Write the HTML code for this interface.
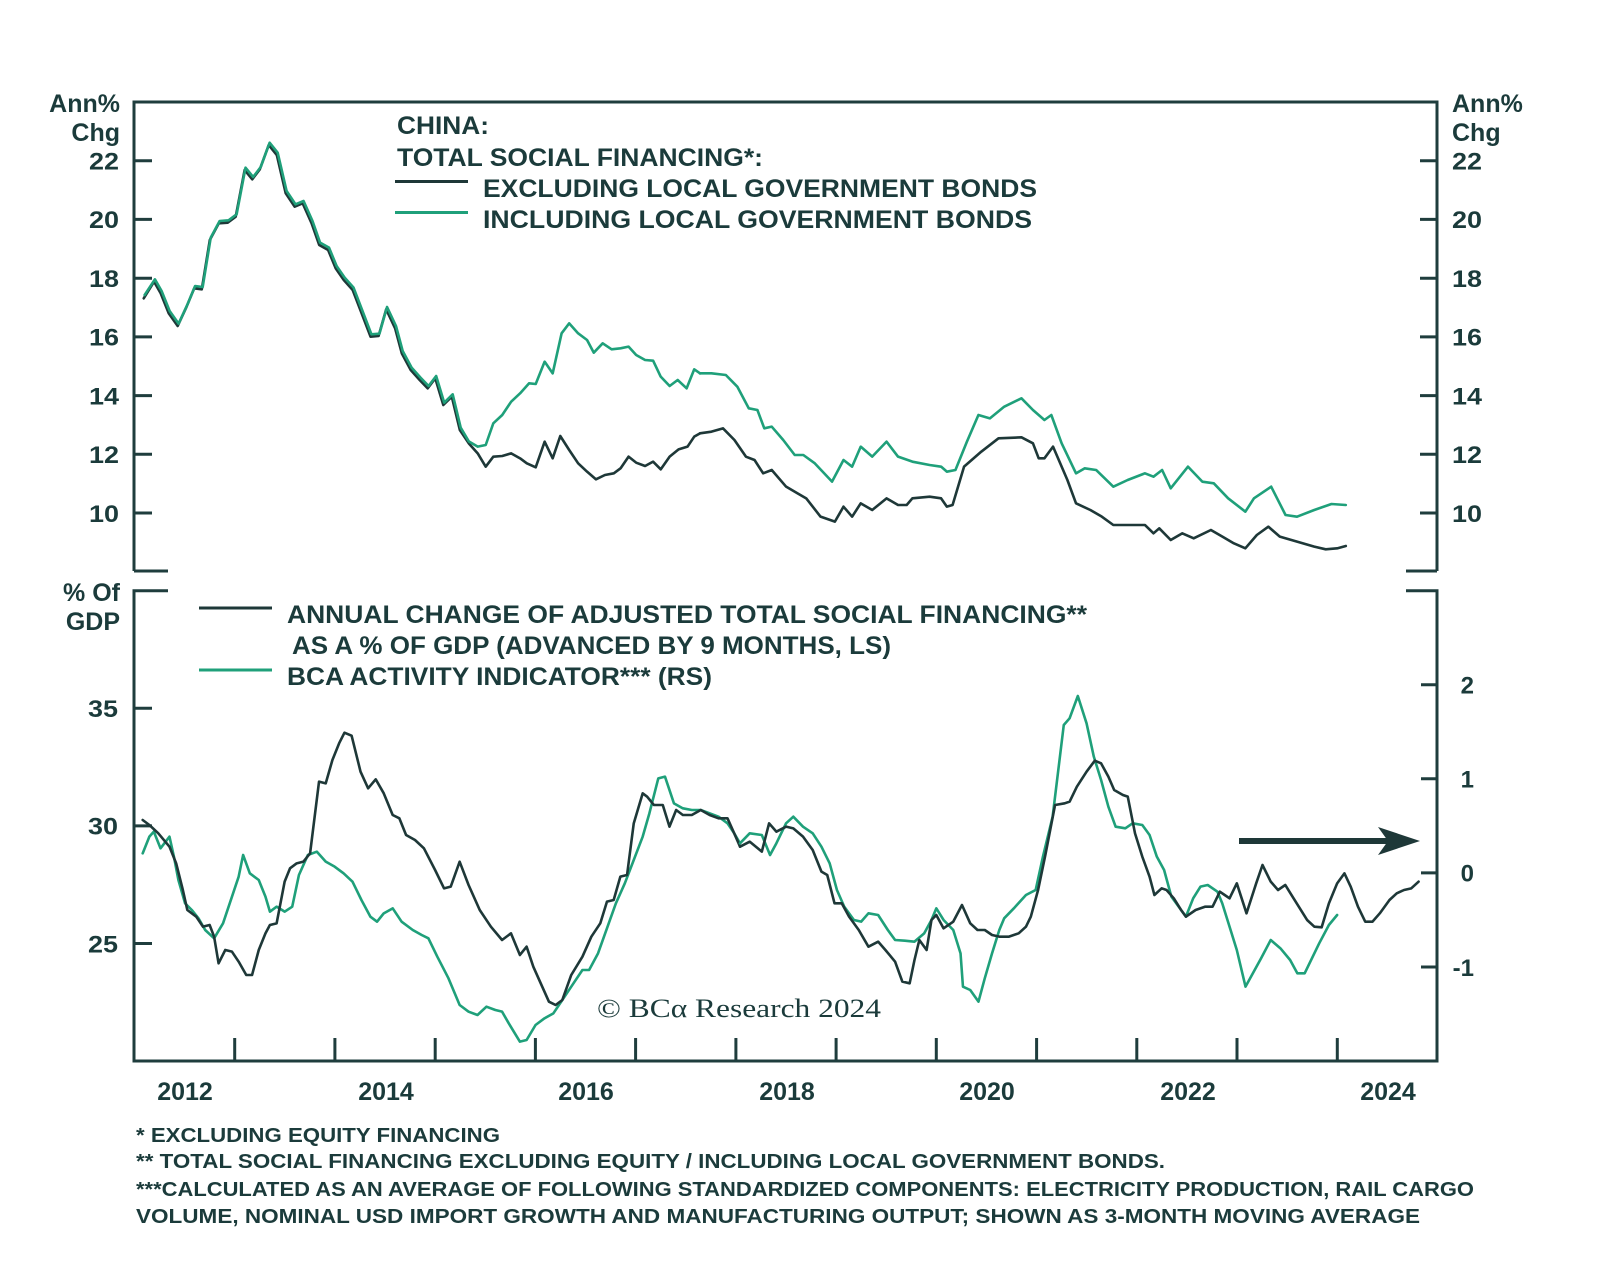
<!DOCTYPE html>
<html><head><meta charset="utf-8"><style>
html,body{margin:0;padding:0;background:#fff;}
svg{display:block;}
.t{font-family:"Liberation Sans",sans-serif;font-weight:bold;fill:#1b3b3b;}
</style></head><body>
<svg width="1600" height="1284" viewBox="0 0 1600 1284" xmlns="http://www.w3.org/2000/svg">
<rect width="1600" height="1284" fill="#fff"/>
<!-- axes -->
<g stroke="#1f3d3d" stroke-width="3" fill="none">
<path d="M134,571 L134,102 L1437,102 L1437,571"/>
<path d="M134,571 L168,571 M1406,571 L1437,571"/>
<path d="M134,160.7 H152 M134,219.4 H152 M134,278.2 H152 M134,336.9 H152 M134,395.6 H152 M134,454.3 H152 M134,513 H152"/>
<path d="M1420,160.7 H1437 M1420,219.4 H1437 M1420,278.2 H1437 M1420,336.9 H1437 M1420,395.6 H1437 M1420,454.3 H1437 M1420,513 H1437"/>
<path d="M168,590.7 L134,590.7 L134,1061 L1437,1061 L1437,590.7 L1406,590.7"/>
<path d="M134,708.3 H152 M134,825.9 H152 M134,943.5 H152"/>
<path d="M1421,684.8 H1437 M1421,778.8 H1437 M1421,872.9 H1437 M1421,967 H1437"/>
<path d="M234.7,1061 V1038 M334.9,1061 V1038 M435.2,1061 V1038 M535.4,1061 V1038 M635.6,1061 V1038 M735.9,1061 V1038 M836.1,1061 V1038 M936.3,1061 V1038 M1036.6,1061 V1038 M1136.8,1061 V1038 M1237,1061 V1038 M1337.3,1061 V1038"/>
</g>

<g fill="none" stroke-linejoin="round" stroke-linecap="round">
<g transform="translate(0,80) scale(0.44643,0.33333)">
<polyline vector-effect="non-scaling-stroke" stroke="#1e3838" stroke-width="2.6" points="322,655 345,605 360,640 378,700 398,738 418,680 435,625 452,628 470,480 490,430 510,428 528,410 548,270 565,298 582,268 602,195 620,225 640,340 660,380 678,370 698,430 715,495 735,510 752,565 770,600 790,630 810,700 830,770 848,768 865,688 885,745 900,820 920,870 940,900 958,925 975,895 993,975 1012,950 1030,1050 1050,1090 1070,1120 1088,1160 1105,1130 1125,1128 1145,1120 1165,1135 1180,1150 1200,1162 1220,1085 1238,1135 1255,1068 1275,1110 1295,1150 1315,1175 1335,1198 1355,1185 1375,1180 1390,1165 1408,1130 1425,1148 1445,1158 1463,1145 1480,1168 1500,1130 1520,1108 1540,1100 1555,1070 1568,1060"/>
<polyline vector-effect="non-scaling-stroke" stroke="#1fa07a" stroke-width="2.6" points="324,645 347,598 362,633 380,693 400,731 420,673 437,618 454,621 472,473 492,423 512,421 530,403 550,263 567,291 584,261 604,188 622,218 642,333 662,373 680,363 700,423 717,488 737,503 754,558 772,593 792,623 812,693 832,763 850,761 867,681 887,738 902,813 922,863 942,893 960,918 977,888 995,968 1014,943 1032,1043 1050,1084 1070,1100 1088,1095 1105,1030 1125,1005 1145,965 1165,940 1185,910 1200,912 1220,845 1238,880 1258,760 1275,730 1295,760 1315,780 1330,818 1350,790 1370,808 1390,805 1408,800 1425,825 1445,840 1463,842 1480,890 1500,918 1518,900 1538,925 1555,868 1568,880"/>
</g>
<g transform="translate(700,80) scale(0.57405,0.33333)">
<polyline vector-effect="non-scaling-stroke" stroke="#1e3838" stroke-width="2.6" points="0,1060 20,1055 40,1045 60,1080 80,1130 95,1140 110,1180 125,1170 150,1220 170,1240 185,1255 210,1310 235,1325 250,1280 265,1310 280,1270 300,1290 325,1255 345,1275 360,1275 370,1255 400,1250 420,1255 430,1280 440,1275 460,1160 490,1115 520,1075 560,1072 580,1090 590,1135 600,1135 615,1100 640,1200 655,1270 680,1290 700,1310 720,1335 745,1335 775,1335 790,1360 800,1345 820,1380 840,1360 860,1375 890,1350 910,1370 930,1390 950,1405 970,1365 990,1340 1010,1370 1040,1385 1070,1400 1090,1408 1110,1405 1125,1398"/>
<polyline vector-effect="non-scaling-stroke" stroke="#1fa07a" stroke-width="2.6" points="0,880 20,880 45,885 65,920 85,985 100,990 112,1045 125,1040 145,1080 165,1125 180,1125 200,1150 230,1205 250,1140 265,1160 280,1100 300,1130 325,1085 345,1130 370,1145 400,1155 420,1160 430,1175 445,1170 465,1085 485,1005 505,1015 530,980 560,955 580,990 600,1020 612,1005 630,1090 655,1180 670,1165 690,1170 720,1220 745,1200 775,1180 790,1190 805,1170 820,1225 850,1160 875,1205 895,1210 920,1255 950,1295 965,1255 995,1220 1020,1305 1040,1310 1070,1290 1100,1272 1125,1275"/>
</g>

<g transform="translate(40,570) scale(0.44643,0.33333)">
<polyline vector-effect="non-scaling-stroke" stroke="#1fa07a" stroke-width="2.6" points="230,850 245,800 255,785 270,835 290,800 300,860 310,930 325,1000 340,1020 355,1045 370,1080 390,1105 410,1060 430,980 445,920 455,855 470,910 490,930 505,980 515,1025 530,1010 548,1025 565,1010 580,915 600,855 620,845 640,875 660,890 680,910 700,935 720,990 740,1040 755,1055 770,1030 790,1015 810,1055 835,1080 855,1095 870,1105 890,1160 915,1225 940,1305 960,1325 980,1335 1000,1310 1020,1320 1035,1325 1050,1360 1075,1415 1090,1410 1110,1365 1130,1345 1150,1330 1170,1290 1195,1240 1215,1200 1230,1200 1250,1150 1270,1075 1290,1000 1310,940 1330,870 1350,800 1365,730 1385,625 1400,620 1420,700 1440,715 1460,720 1480,720 1500,730 1520,740 1540,760 1555,790 1568,820"/>
<polyline vector-effect="non-scaling-stroke" stroke="#1e3838" stroke-width="2.6" points="230,750 245,765 265,790 290,830 305,880 320,960 330,1020 350,1040 365,1070 380,1065 390,1100 400,1180 415,1140 430,1145 445,1175 462,1215 475,1215 490,1140 505,1090 515,1065 530,1060 548,935 560,895 575,880 590,875 605,850 625,635 640,640 655,570 670,520 682,488 698,497 718,605 735,655 752,628 770,670 790,735 805,745 820,795 840,810 860,835 885,900 905,955 920,950 940,875 960,945 985,1020 1010,1070 1035,1110 1055,1090 1075,1155 1090,1130 1105,1190 1125,1250 1140,1295 1155,1305 1170,1290 1190,1215 1215,1160 1235,1100 1255,1060 1270,995 1285,990 1300,920 1315,915 1330,760 1350,670 1360,680 1375,705 1395,705 1410,770 1425,720 1440,735 1460,735 1480,720 1500,735 1520,745 1540,745 1555,790 1568,830"/>
</g>
<g transform="translate(740,570) scale(0.48469,0.33333)">
<polyline vector-effect="non-scaling-stroke" stroke="#1fa07a" stroke-width="2.6" points="0,820 20,790 45,795 62,855 75,820 95,760 110,740 130,770 150,790 168,830 185,880 200,960 215,1010 235,1050 250,1055 265,1030 285,1035 305,1080 320,1110 340,1112 360,1115 380,1090 395,1050 405,1015 420,1050 440,1080 455,1150 460,1250 475,1260 492,1295 505,1225 520,1150 535,1080 545,1045 565,1015 590,975 610,960 625,860 645,740 668,465 680,445 697,378 715,460 730,560 745,630 760,710 775,770 795,775 810,760 830,765 845,795 860,860 875,900 890,980 905,1010 920,1040 935,985 950,950 965,945 985,965 995,1000 1010,1070 1025,1140 1043,1250 1060,1205 1075,1165 1095,1110 1115,1135 1135,1170 1150,1210 1165,1210 1180,1165 1195,1120 1215,1065 1232,1035"/>
<polyline vector-effect="non-scaling-stroke" stroke="#1e3838" stroke-width="2.6" points="0,830 20,815 45,845 60,760 75,785 95,770 110,775 130,800 150,840 168,905 180,915 195,1000 210,1000 225,1040 245,1080 265,1130 285,1115 300,1140 320,1175 335,1235 350,1240 360,1170 370,1110 385,1140 395,1050 405,1035 420,1075 440,1055 458,1005 475,1060 490,1080 505,1080 520,1095 535,1100 555,1100 575,1090 590,1070 600,1040 615,960 630,855 650,705 670,700 680,695 695,650 715,605 732,572 745,580 760,620 772,660 790,675 800,680 815,790 830,860 845,920 855,975 870,955 880,960 895,985 910,1020 920,1040 940,1020 960,1010 975,1010 990,965 1000,975 1010,985 1025,940 1035,985 1045,1030 1065,940 1078,885 1095,935 1110,960 1125,945 1140,980 1155,1015 1170,1050 1185,1070 1200,1072 1215,1000 1232,940 1247,910 1260,950 1275,1010 1290,1055 1305,1055 1320,1030 1340,990 1355,970 1370,960 1385,955 1400,935"/>
</g>
</g>

<line x1="1239" y1="841" x2="1392" y2="841" stroke="#1e3838" stroke-width="6"/>
<polygon points="1378,827 1420,841 1378,855 1388,841" fill="#1e3838"/>

<line x1="395" y1="181.5" x2="468" y2="181.5" stroke="#1e3838" stroke-width="3"/>
<line x1="395" y1="212.5" x2="468" y2="212.5" stroke="#1fa07a" stroke-width="3"/>
<g class="t" font-size="25">
<text x="397" y="134" textLength="92" lengthAdjust="spacingAndGlyphs">CHINA:</text>
<text x="397" y="166" textLength="366" lengthAdjust="spacingAndGlyphs">TOTAL SOCIAL FINANCING*:</text>
<text x="483" y="197" textLength="554" lengthAdjust="spacingAndGlyphs">EXCLUDING LOCAL GOVERNMENT BONDS</text>
<text x="483" y="228" textLength="549" lengthAdjust="spacingAndGlyphs">INCLUDING LOCAL GOVERNMENT BONDS</text>
</g>

<line x1="199" y1="608" x2="272" y2="608" stroke="#1e3838" stroke-width="3"/>
<line x1="199" y1="670" x2="272" y2="670" stroke="#1fa07a" stroke-width="3"/>
<g class="t" font-size="25">
<text x="287" y="623" textLength="800" lengthAdjust="spacingAndGlyphs">ANNUAL CHANGE OF ADJUSTED TOTAL SOCIAL FINANCING**</text>
<text x="292" y="654" textLength="599" lengthAdjust="spacingAndGlyphs">AS A % OF GDP (ADVANCED BY 9 MONTHS, LS)</text>
<text x="287" y="685" textLength="425" lengthAdjust="spacingAndGlyphs">BCA ACTIVITY INDICATOR*** (RS)</text>
</g>

<g class="t" font-size="25">
<text x="120" y="112" text-anchor="end">Ann%</text>
<text x="120" y="141" text-anchor="end">Chg</text>
<text x="1452" y="112">Ann%</text>
<text x="1452" y="141">Chg</text>
<text x="120" y="112" text-anchor="end" opacity="0"> </text>
</g>
<g class="t" font-size="24">
<text x="89" y="169.5" textLength="30" lengthAdjust="spacingAndGlyphs">22</text>
<text x="89" y="228.2" textLength="30" lengthAdjust="spacingAndGlyphs">20</text>
<text x="89" y="287" textLength="30" lengthAdjust="spacingAndGlyphs">18</text>
<text x="89" y="345.7" textLength="30" lengthAdjust="spacingAndGlyphs">16</text>
<text x="89" y="404.4" textLength="30" lengthAdjust="spacingAndGlyphs">14</text>
<text x="89" y="463.1" textLength="30" lengthAdjust="spacingAndGlyphs">12</text>
<text x="89" y="521.8" textLength="30" lengthAdjust="spacingAndGlyphs">10</text>
<text x="1452" y="169.5" textLength="30" lengthAdjust="spacingAndGlyphs">22</text>
<text x="1452" y="228.2" textLength="30" lengthAdjust="spacingAndGlyphs">20</text>
<text x="1452" y="287" textLength="30" lengthAdjust="spacingAndGlyphs">18</text>
<text x="1452" y="345.7" textLength="30" lengthAdjust="spacingAndGlyphs">16</text>
<text x="1452" y="404.4" textLength="30" lengthAdjust="spacingAndGlyphs">14</text>
<text x="1452" y="463.1" textLength="30" lengthAdjust="spacingAndGlyphs">12</text>
<text x="1452" y="521.8" textLength="30" lengthAdjust="spacingAndGlyphs">10</text>
<text x="88" y="717.1" textLength="30" lengthAdjust="spacingAndGlyphs">35</text>
<text x="88" y="834.7" textLength="30" lengthAdjust="spacingAndGlyphs">30</text>
<text x="88" y="952.3" textLength="30" lengthAdjust="spacingAndGlyphs">25</text>
<text x="1474" y="693.6" text-anchor="end">2</text>
<text x="1474" y="787.6" text-anchor="end">1</text>
<text x="1474" y="881.7" text-anchor="end">0</text>
<text x="1474" y="975.8" text-anchor="end">-1</text>
</g>
<g class="t" font-size="25">
<text x="120" y="601" text-anchor="end">% Of</text>
<text x="120" y="630" text-anchor="end">GDP</text>
</g>
<g class="t" font-size="25" text-anchor="middle">
<text x="185" y="1100">2012</text>
<text x="386" y="1100">2014</text>
<text x="586" y="1100">2016</text>
<text x="787" y="1100">2018</text>
<text x="987" y="1100">2020</text>
<text x="1188" y="1100">2022</text>
<text x="1388" y="1100">2024</text>
</g>

<text x="597" y="1017" font-family="'Liberation Serif',serif" font-size="26" fill="#1b3b3b" textLength="284" lengthAdjust="spacingAndGlyphs">© BCα Research 2024</text>

<g class="t" font-size="20">
<text x="136" y="1142" textLength="364" lengthAdjust="spacingAndGlyphs">* EXCLUDING EQUITY FINANCING</text>
<text x="136" y="1168" textLength="1029" lengthAdjust="spacingAndGlyphs">** TOTAL SOCIAL FINANCING EXCLUDING EQUITY / INCLUDING LOCAL GOVERNMENT BONDS.</text>
<text x="136" y="1196" textLength="1338" lengthAdjust="spacingAndGlyphs">***CALCULATED AS AN AVERAGE OF FOLLOWING STANDARDIZED COMPONENTS: ELECTRICITY PRODUCTION, RAIL CARGO</text>
<text x="136" y="1223" textLength="1284" lengthAdjust="spacingAndGlyphs">VOLUME, NOMINAL USD IMPORT GROWTH AND MANUFACTURING OUTPUT; SHOWN AS 3-MONTH MOVING AVERAGE</text>
</g>
</svg>
</body></html>
